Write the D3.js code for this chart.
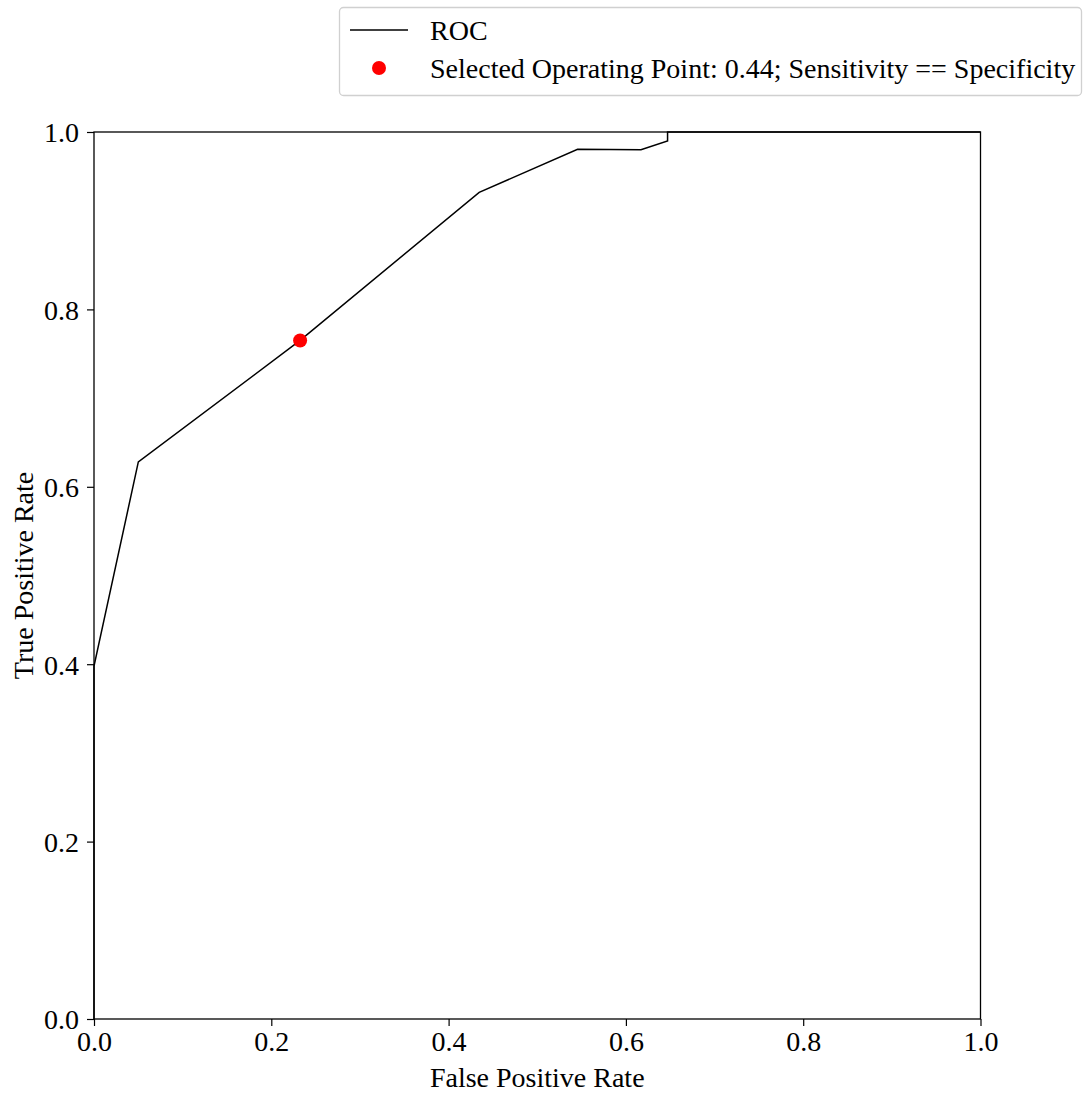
<!DOCTYPE html>
<html>
<head>
<meta charset="utf-8">
<script src="https://cdn.jsdelivr.net/npm/d3@7"></script>
<style>
  body { margin: 0; background: #fff; }
  svg text { font-family: "Liberation Serif", "Times New Roman", serif; fill: #000; }
</style>
</head>
<body>
<svg id="chart" width="1083" height="1093"></svg>
<script>
// ROC curve points
const fpr = [0, 0, 0.05, 0.2325, 0.4345, 0.5455, 0.617, 0.647, 0.647, 1.0]
const tpr = [0, 0.398, 0.628, 0.765, 0.932, 0.9805, 0.98, 0.990, 1.0, 1.0]

const operatingPoint = [0.2325, 0.765]
const ticks = [0, 0.2, 0.4, 0.6, 0.8, 1.0]

const legendLabels = ['ROC', 'Selected Operating Point: 0.44; Sensitivity == Specificity']

const fontSize = 28
const svg = d3.select('#chart')
const plot = { left: 94, right: 980.5, top: 132, bottom: 1019 }

const x = d3.scaleLinear().domain([0, 1]).range([plot.left, plot.right])
const y = d3.scaleLinear().domain([0, 1]).range([plot.bottom, plot.top])

// axes
const xAxis = svg.append('g')
  .attr('transform', `translate(0,${plot.bottom})`)
  .call(d3.axisBottom(x).tickValues(ticks).tickFormat(d3.format('.1f')).tickSize(7).tickPadding(5))
const yAxis = svg.append('g')
  .attr('transform', `translate(${plot.left},0)`)
  .call(d3.axisLeft(y).tickValues(ticks).tickFormat(d3.format('.1f')).tickSize(7).tickPadding(8))

;[xAxis, yAxis].forEach(g => {
  g.select('.domain').remove()
  g.selectAll('.tick line').attr('stroke', '#000').attr('stroke-width', 1.2)
  g.selectAll('.tick text').attr('font-size', fontSize).attr('font-family', '"Liberation Serif", serif')
})
yAxis.selectAll('.tick text').attr('dy', '0.35em')

// frame
svg.append('rect')
  .attr('x', plot.left).attr('y', plot.top)
  .attr('width', plot.right - plot.left).attr('height', plot.bottom - plot.top)
  .attr('fill', 'none').attr('stroke', '#000').attr('stroke-width', 1.3)

// ROC line
const line = d3.line().x(d => x(d[0])).y(d => y(d[1]))
svg.append('path')
  .datum(d3.zip(fpr, tpr))
  .attr('d', line)
  .attr('fill', 'none')
  .attr('stroke', '#000')
  .attr('stroke-width', 1.5)

// operating point
svg.append('circle')
  .attr('cx', x(operatingPoint[0]))
  .attr('cy', y(operatingPoint[1]))
  .attr('r', 7)
  .attr('fill', '#ff0000')

// axis labels
svg.append('text')
  .attr('x', (plot.left + plot.right) / 2).attr('y', 1087)
  .attr('text-anchor', 'middle').attr('font-size', fontSize)
  .text('False Positive Rate')
svg.append('text')
  .attr('transform', `translate(33,${(plot.top + plot.bottom) / 2}) rotate(-90)`)
  .attr('text-anchor', 'middle').attr('font-size', fontSize)
  .text('True Positive Rate')

// legend
const legend = svg.append('g')
legend.append('rect')
  .attr('x', 339.5).attr('y', 7.5).attr('width', 742).attr('height', 88)
  .attr('rx', 4).attr('fill', '#fff').attr('fill-opacity', 0.8)
  .attr('stroke', '#d0d0d0').attr('stroke-width', 1.3)
legend.append('line')
  .attr('x1', 350).attr('x2', 408).attr('y1', 30).attr('y2', 30)
  .attr('stroke', '#000').attr('stroke-width', 1.5)
legend.append('circle')
  .attr('cx', 379).attr('cy', 68).attr('r', 7).attr('fill', '#ff0000')
legendLabels.forEach((label, i) => {
  legend.append('text')
    .attr('x', 430).attr('y', 30 + i * 38).attr('dy', '0.35em')
    .attr('font-size', fontSize)
    .text(label)
})
</script>
</body>
</html>
